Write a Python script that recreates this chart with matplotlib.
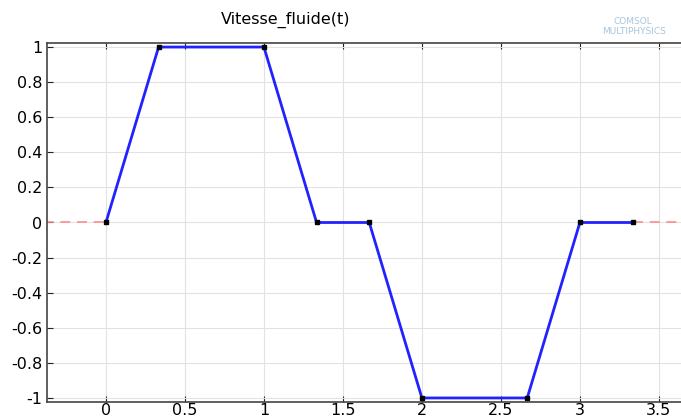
import matplotlib.pyplot as plt

# piecewise-linear velocity profile
t = [0, 1/3, 1, 4/3, 5/3, 2, 8/3, 3, 10/3]
v = [0, 1, 1, 0, 0, -1, -1, 0, 0]

# constant extrapolation outside the definition interval
t_left = [-0.5, 0]
t_right = [10/3, 4]
v_ext = [0, 0]

xticks = [0, 0.5, 1, 1.5, 2, 2.5, 3, 3.5]
yticks = [-1, -0.8, -0.6, -0.4, -0.2, 0, 0.2, 0.4, 0.6, 0.8, 1]

fig = plt.figure(figsize=(6.81, 4.19), dpi=100)
ax = fig.add_axes([47/681, 17/419, 1 - 47/681, 359/419])

ax.plot(t_left, v_ext, color='#ff8c8c', lw=1.2, dashes=(6, 4))
ax.plot(t_right, v_ext, color='#ff8c8c', lw=1.2, dashes=(6, 4))
ax.plot(t, v, color='#2222ff', lw=2, marker='s', ms=3.5,
        mfc='black', mec='black', zorder=3)

ax.set_xlim(-0.373, 3.64)
ax.set_ylim(-1.023, 1.023)
ax.set_xticks(xticks)
ax.set_xticklabels([f'{x:g}' for x in xticks])
ax.set_yticks(yticks)
ax.set_yticklabels([f'{y:g}' for y in yticks])
ax.grid(color='#e2e2e2', lw=0.8)
ax.set_axisbelow(True)
ax.tick_params(direction='in', length=4, labelsize=11.5, top=True,
               colors='#222222', labelcolor='black')
ax.tick_params(axis='x', pad=1)
ax.spines['right'].set_visible(False)
for s in ['left', 'bottom', 'top']:
    ax.spines[s].set_color('#444444')
    ax.spines[s].set_linewidth(1.2)

fig.text(286/681, 1 - 20/419, 'Vitesse_fluide(t)', ha='center', va='center',
         fontsize=11.5)
fig.text(652/681, 1 - 22/419, 'COMSOL', ha='right', va='center',
         fontsize=6.5, color='#a8c4dc')
fig.text(666/681, 1 - 31/419, 'MULTIPHYSICS', ha='right', va='center',
         fontsize=6.5, color='#a8c4dc')

fig.savefig('out.png', dpi=100)
